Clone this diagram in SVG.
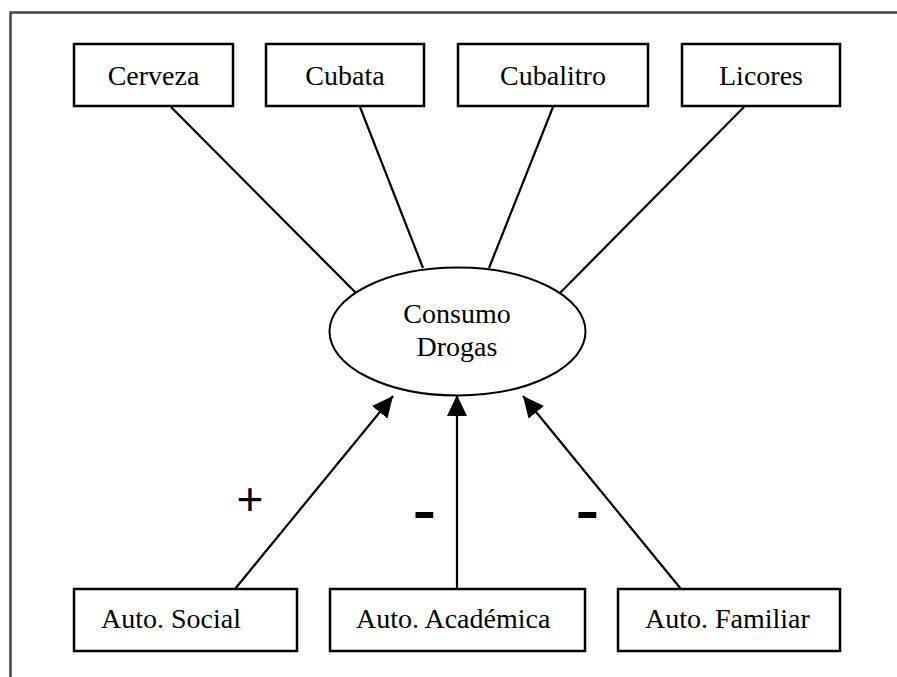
<svg xmlns="http://www.w3.org/2000/svg" width="897" height="677" viewBox="0 0 897 677">
  <style>
    .box { fill: #fff; stroke: #000; stroke-width: 2.5; }
    .lbl { font-family: "Liberation Serif", "Times New Roman", serif; font-size: 28px; fill: #000; }
    .mid { text-anchor: middle; }
    .edge { stroke: #000; stroke-width: 2.2; fill: none; }
    .sign { font-family: "Liberation Sans", Arial, sans-serif; fill: #000; text-anchor: middle; }
  </style>
  <defs>
    <marker id="arrow" markerUnits="userSpaceOnUse" markerWidth="22" markerHeight="20" refX="21" refY="10" orient="auto">
      <path d="M0,0 L21,10 L0,20 z" fill="#000"/>
    </marker>
  </defs>
  <rect width="897" height="677" fill="#fff"/>
  <!-- frame -->
  <path d="M10.5,677 V12.5 H897" fill="none" stroke="#444" stroke-width="2.5"/>

  <!-- connectors -->
  <g id="connectors">
    <line class="edge" x1="171" y1="107" x2="361" y2="298"/>
    <line class="edge" x1="360" y1="107" x2="423" y2="268"/>
    <line class="edge" x1="553" y1="107" x2="489" y2="268"/>
    <line class="edge" x1="744" y1="107" x2="555" y2="298"/>
    <line class="edge" x1="235" y1="589" x2="393" y2="396" marker-end="url(#arrow)"/>
    <line class="edge" x1="457" y1="589" x2="457" y2="395" marker-end="url(#arrow)"/>
    <line class="edge" x1="681" y1="589" x2="523" y2="396" marker-end="url(#arrow)"/>
  </g>

  <!-- indicators -->
  <g id="node-cerveza">
    <rect class="box" x="74" y="44" width="159" height="62"/>
    <text class="lbl mid" x="153.5" y="85">Cerveza</text>
  </g>
  <g id="node-cubata">
    <rect class="box" x="266" y="44" width="158" height="62"/>
    <text class="lbl mid" x="345" y="85">Cubata</text>
  </g>
  <g id="node-cubalitro">
    <rect class="box" x="458" y="44" width="190" height="62"/>
    <text class="lbl mid" x="553" y="85">Cubalitro</text>
  </g>
  <g id="node-licores">
    <rect class="box" x="682" y="44" width="158" height="62"/>
    <text class="lbl mid" x="761" y="85">Licores</text>
  </g>

  <!-- latent variable -->
  <g id="node-consumo">
    <ellipse cx="457.5" cy="331.5" rx="128" ry="64" fill="#fff" stroke="#000" stroke-width="2"/>
    <text class="lbl mid" x="457" y="323">Consumo</text>
    <text class="lbl mid" x="457" y="356">Drogas</text>
  </g>

  <!-- predictors -->
  <g id="node-social">
    <rect class="box" x="74" y="589" width="223" height="62"/>
    <text class="lbl" x="101" y="628">Auto. Social</text>
  </g>
  <g id="node-academica">
    <rect class="box" x="330" y="589" width="255" height="62"/>
    <text class="lbl" x="356" y="628">Auto. Académica</text>
  </g>
  <g id="node-familiar">
    <rect class="box" x="618" y="589" width="222" height="62"/>
    <text class="lbl" x="645" y="628">Auto. Familiar</text>
  </g>

  <!-- effect signs -->
  <g id="signs">
    <text class="sign" x="250" y="515" font-size="46">+</text>
    <text class="sign" font-size="50" font-weight="bold" transform="translate(424.5,527.5) scale(1.4,1)">-</text>
    <text class="sign" font-size="50" font-weight="bold" transform="translate(587.5,527.5) scale(1.4,1)">-</text>
  </g>
</svg>
